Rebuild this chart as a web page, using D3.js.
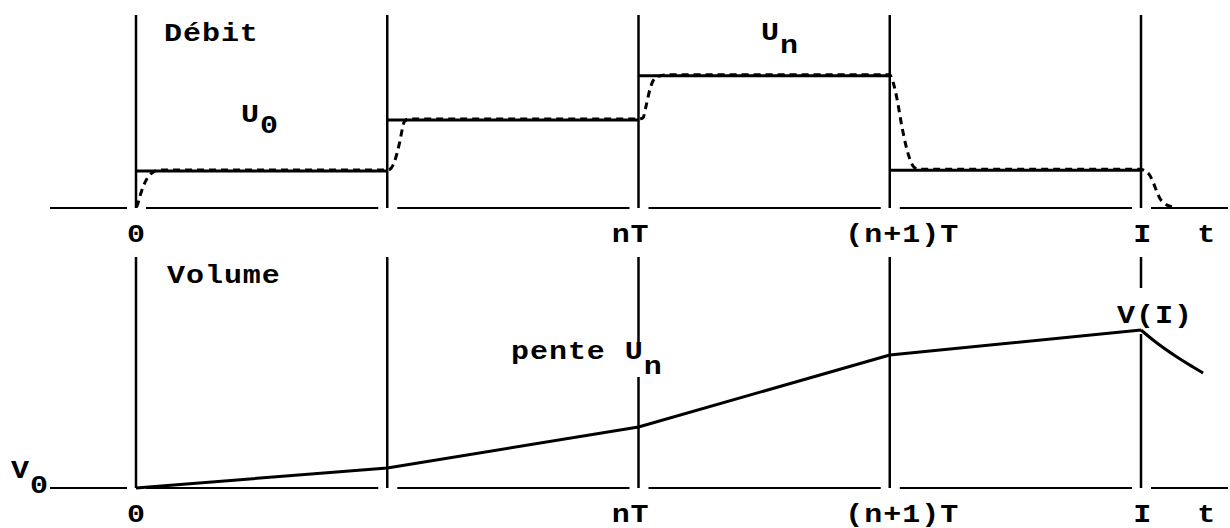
<!DOCTYPE html>
<html>
<head>
<meta charset="utf-8">
<script src="https://cdn.jsdelivr.net/npm/d3@7"></script>
<style>
  body { margin: 0; background: #fff; }
  svg text {
    font-family: "Liberation Mono", "Courier New", monospace;
    font-weight: bold;
    font-size: 25px;
    letter-spacing: 0.8px;
    fill: #000;
  }
</style>
</head>
<body>
<svg id="chart" width="1230" height="528"></svg>
<script>
// Period boundaries, in units of T: 0, T, nT, (n+1)T, I
const boundaries = [0, 1, 2, 3, 4];

// Commanded flow held constant over each period
const flowLevels = [1.0, 2.37, 3.56, 1.02];

// Actual flow (t, u): lags behind each step of the command
const flowResponse = [
  [0, 0], [0.004, 0.03], [0.016, 0.30], [0.028, 0.54], [0.048, 0.81], [0.068, 0.94], [0.096, 1.0],
  [1.004, 1.0], [1.016, 1.05], [1.028, 1.21], [1.048, 1.70], [1.06, 2.10], [1.068, 2.30], [1.084, 2.37],
  [2.0, 2.37], [2.018, 2.40], [2.03, 2.72], [2.046, 3.18], [2.058, 3.40], [2.078, 3.52], [2.106, 3.56],
  [3.0, 3.56], [3.013, 3.37], [3.029, 2.91], [3.048, 2.18], [3.068, 1.56], [3.08, 1.29], [3.092, 1.11], [3.112, 1.02],
  [3.996, 1.02], [4.016, 0.97], [4.036, 0.84], [4.048, 0.67], [4.064, 0.40], [4.076, 0.22], [4.088, 0.13], [4.104, 0.05], [4.123, 0]
];

// Stored volume at each boundary (above V0)
const volumeAtBoundary = [0, 2.0, 6.1, 13.3, 15.8];

// Volume once the horizon I is passed
const volumeAfterHorizon = [[4, 15.8], [4.048, 14.8], [4.143, 13.1], [4.207, 12.1], [4.247, 11.5]];

// Time-axis ticks
const tickValues = [0, 2, 3, 4, 4.26];
const tickLabels = ["0", "nT", "(n+1)T", "I", "t"];

const svg = d3.select("#chart");

const x = d3.scaleLinear().domain([0, 4]).range([136, 1141]);
const yFlow = d3.scaleLinear().domain([0, 5.2]).range([208, 15]);
const yVol = d3.scaleLinear().domain([0, 23.1]).range([488, 257]);

// typewriter-style wide lettering
const widen = 1.2;

const axisStart = 50, axisEnd = 1228;
const gapLeft = 9, gapRight = 10;
const tickShift = [0, -7, 10, 1, 0];

const layers = {
  grid: svg.append("g"),
  knock: svg.append("g"),
  marks: svg.append("g"),
  text: svg.append("g")
};

function drawPanel(y, top) {
  // broken time axis: interrupted around each boundary line
  const xs = boundaries.map(x);
  const segs = [];
  let from = axisStart;
  xs.forEach(bx => { segs.push([from, bx - gapLeft]); from = bx + gapRight; });
  segs.push([from, axisEnd]);
  layers.grid.selectAll(null).data(segs).join("line")
    .attr("x1", d => d[0]).attr("x2", d => d[1])
    .attr("y1", y(0)).attr("y2", y(0))
    .attr("stroke", "#000").attr("stroke-width", 2);

  // boundary lines
  layers.grid.selectAll(null).data(boundaries).join("line")
    .attr("x1", d => x(d)).attr("x2", d => x(d))
    .attr("y1", y(top)).attr("y2", y(0))
    .attr("stroke", "#000").attr("stroke-width", 2.5);

  // tick labels
  const ax = d3.axisBottom(x)
    .tickValues(tickValues)
    .tickFormat((d, i) => tickLabels[i])
    .tickSize(0)
    .tickPadding(16);
  const g = layers.text.append("g")
    .attr("transform", `translate(0,${y(0)})`)
    .call(ax);
  g.select(".domain").remove();
  g.selectAll(".tick text")
    .attr("dx", (d, i) => tickShift[i])
    .attr("transform", `scale(${widen},1)`);
}

drawPanel(yFlow, 5.2);
drawPanel(yVol, 23.1);

// label with a lowered index
function subLabel(px, py, main, sub, subDy, knock) {
  const g = layers.text.append("g")
    .attr("transform", `translate(${px},${py}) scale(${widen},1)`);
  const t = g.append("text");
  t.append("tspan").text(main);
  if (sub) t.append("tspan").attr("dy", subDy).text(sub);
  if (knock) {
    const b = t.node().getBBox();
    layers.knock.append("rect")
      .attr("x", px + b.x * widen - 3).attr("width", b.width * widen + 6)
      .attr("y", knock[0]).attr("height", knock[1] - knock[0])
      .attr("fill", "#fff");
  }
  return t;
}

// top panel: commanded flow (solid steps) and actual flow (dashed)
layers.marks.selectAll(null).data(flowLevels).join("line")
  .attr("x1", (d, i) => x(boundaries[i])).attr("x2", (d, i) => x(boundaries[i + 1]))
  .attr("y1", d => yFlow(d)).attr("y2", d => yFlow(d))
  .attr("stroke", "#000").attr("stroke-width", 3);

layers.marks.append("path")
  .datum(flowResponse)
  .attr("transform", "translate(0,-1)")
  .attr("fill", "none")
  .attr("stroke", "#000")
  .attr("stroke-width", 3)
  .attr("stroke-dasharray", "7,5")
  .attr("d", d3.line().x(d => x(d[0])).y(d => yFlow(d[1])).curve(d3.curveMonotoneX));

// bottom panel: volume, piecewise linear with slope U_n on each period
layers.marks.append("path")
  .datum(boundaries.map((b, i) => [b, volumeAtBoundary[i]]))
  .attr("fill", "none").attr("stroke", "#000").attr("stroke-width", 3)
  .attr("stroke-linejoin", "round")
  .attr("d", d3.line().x(d => x(d[0])).y(d => yVol(d[1])));

layers.marks.append("path")
  .datum(volumeAfterHorizon)
  .attr("fill", "none").attr("stroke", "#000").attr("stroke-width", 3)
  .attr("d", d3.line().x(d => x(d[0])).y(d => yVol(d[1])).curve(d3.curveMonotoneX));

// annotations
subLabel(164, 41, "Débit");
subLabel(241, 122, "U", "0", 11);
subLabel(761, 40, "U", "n", 13);
subLabel(167, 283, "Volume");
subLabel(511, 359, "pente U", "n", 15, [345, 377]);
subLabel(1117, 323, "V(I)", null, 0, [288, 334]);
subLabel(11, 478, "V", "0", 15);
</script>
</body>
</html>
